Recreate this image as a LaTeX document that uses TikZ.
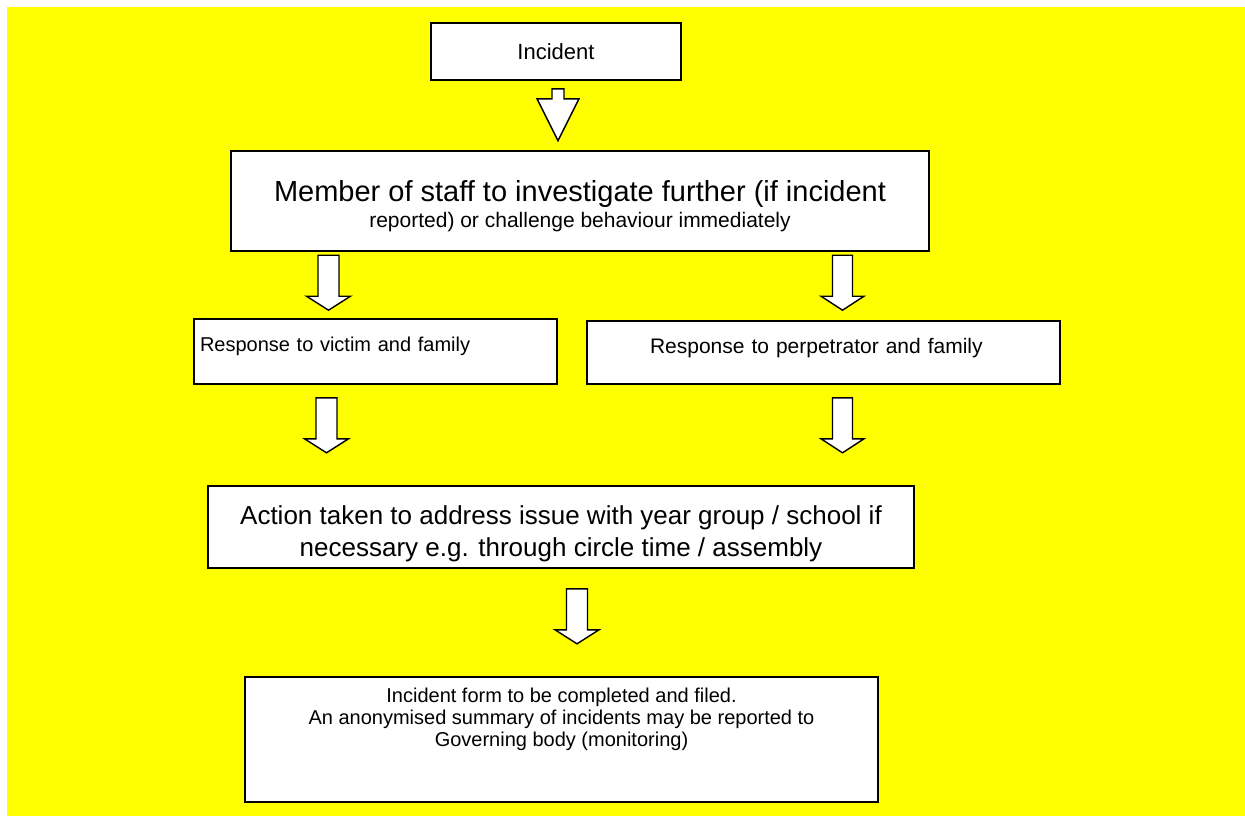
\documentclass[tikz,border=0pt]{standalone}
\usepackage{fontspec}
\setmainfont{Liberation Sans}
\usetikzlibrary{calc}

\definecolor{bgyellow}{RGB}{255,255,0}

\tikzset{
  flowbox/.style={draw=black, line width=1.6pt, fill=white, align=center, inner sep=0pt},
  arrowbox/.style={draw=black, line width=1.4pt, fill=white, line join=miter},
}

% block arrow: top point, half shaft, half head, shaft length, total length
\newcommand{\blockarrow}[5]{%
  \draw[arrowbox] ($(#1)+(-#2,0)$) -- ++(2*#2,0) -- ++(0,#4) -- ++(#3-#2,0)
    -- ($(#1)+(0,#5)$) -- ($(#1)+(-#3,#4)$) -- ++(#3-#2,0) -- cycle;}

\begin{document}
\begin{tikzpicture}[x=1pt, y=-1pt]
	\useasboundingbox (0,0) rectangle (1245,816);
	\fill[white] (0,0) rectangle (1245,816);
	\fill[bgyellow] (7,7) rectangle (1245,816);

	\path (556,51.5) node (incident) [flowbox, minimum width=250pt, minimum height=57pt,
			font=\fontsize{22}{26}\selectfont] {Incident}
		  (580,201) node (member) [flowbox, minimum width=698pt, minimum height=100pt]
			{{\fontsize{29}{33}\selectfont\rule{0pt}{32pt}Member of staff to investigate further (if incident}\\[4pt]
			 {\fontsize{21}{25}\selectfont reported) or challenge behaviour immediately}}
		  (375.5,351.5) node (victim) [flowbox, minimum width=363pt, minimum height=65pt,
			align=left, text width=351pt, inner xsep=6pt,
			font=\fontsize{20}{24}\selectfont, text height=15pt, text depth=16pt] {Response to victim and family}
		  (823.5,352.5) node (perp) [flowbox, minimum width=473pt, minimum height=63pt,
			align=left, text width=347pt, inner xsep=63pt,
			font=\fontsize{21}{25}\selectfont, text height=15pt, text depth=14pt] {Response to perpetrator and family}
		  (561,527) node (action) [flowbox, minimum width=706pt, minimum height=82pt,
			font=\fontsize{26}{32}\selectfont]
			{\rule{0pt}{32pt}Action taken to address issue with year group / school if\\necessary e.g. through circle time / assembly}
		  (561.5,739.5) node (record) [flowbox, minimum width=633pt, minimum height=125pt,
			font=\fontsize{20}{22}\selectfont]
			{Incident form to be completed and filed.\\An anonymised summary of incidents may be reported to\\Governing body (monitoring)\\[22pt]};

	\coordinate (a1) at ($(incident.south)+(2,8)$);
	\coordinate (a2) at ($(victim.north)+(-47,-63)$);
	\coordinate (a3) at ($(perp.north)+(19,-65)$);
	\coordinate (a4) at ($(victim.south)+(-49,13)$);
	\coordinate (a5) at ($(perp.south)+(19,13)$);
	\coordinate (a6) at ($(action.south)+(16,20)$);

	\blockarrow{a1}{6}{21}{10}{52}
	\blockarrow{a2}{10.5}{22}{41}{55}
	\blockarrow{a3}{10}{21.5}{41}{55}
	\blockarrow{a4}{10.5}{22}{41}{55}
	\blockarrow{a5}{10}{21.5}{41}{55}
	\blockarrow{a6}{10.5}{22}{41}{55}
\end{tikzpicture}
\end{document}
